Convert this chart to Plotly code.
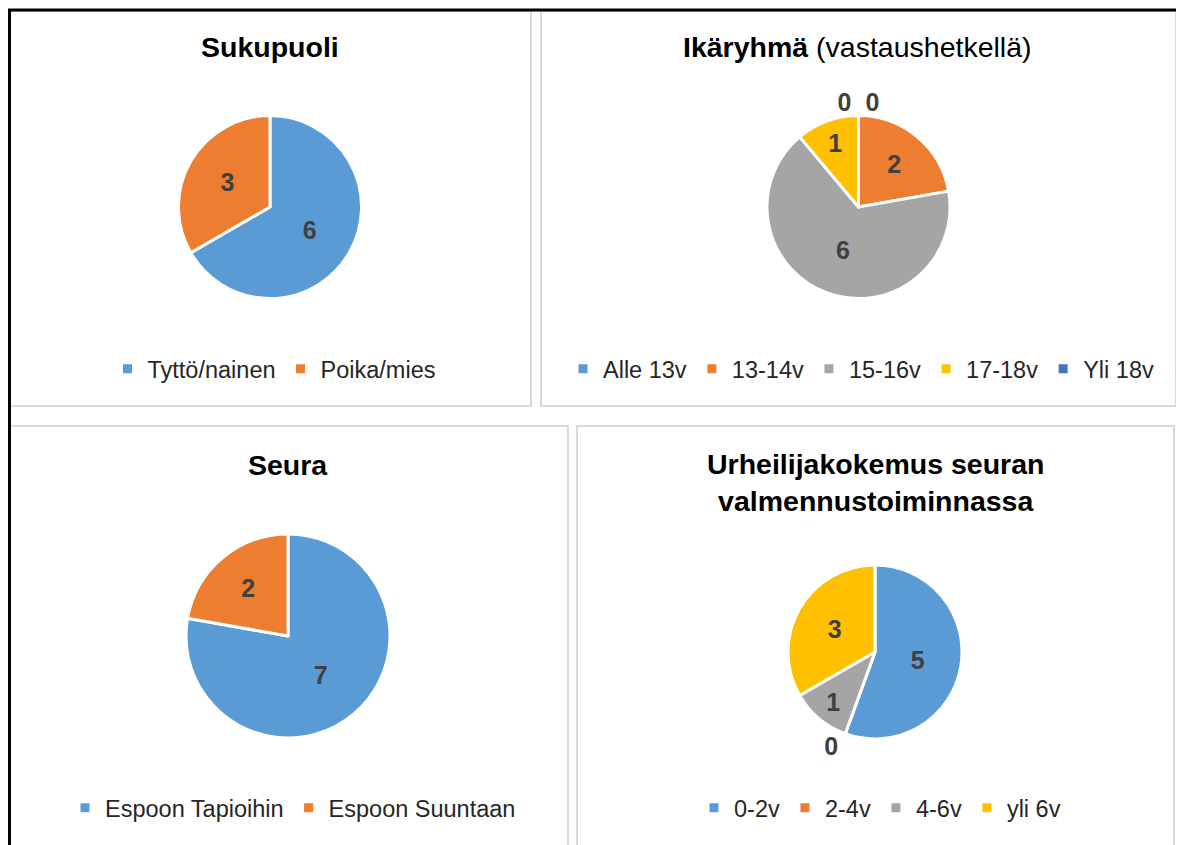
import plotly.graph_objs as go

# data
sukupuoli_labels = ['Tyttö/nainen', 'Poika/mies']
sukupuoli_values = [6, 3]

ika_labels = ['Alle 13v', '13-14v', '15-16v', '17-18v', 'Yli 18v']
ika_values = [0, 2, 6, 1, 0]

seura_labels = ['Espoon Tapioihin', 'Espoon Suuntaan']
seura_values = [7, 2]

kokemus_labels = ['0-2v', '2-4v', '4-6v', 'yli 6v']
kokemus_values = [5, 0, 1, 3]

# page has an 8px body margin, so the figure is placed at (8, 8) in the window
OFF = 8
W, H = 1184 - OFF, 845 - OFF
FONT = "Liberation Sans, Arial, sans-serif"
BLUE, ORANGE, GRAY, YELLOW, DARKBLUE = '#5B9BD5', '#ED7D31', '#A5A5A5', '#FFC000', '#4472C4'


def px(x):
    return (x - OFF) / W


def py(y):
    return 1 - (y - OFF) / H


def pie_domain(cx, cy, r):
    return dict(x=[px(cx - r), px(cx + r)], y=[py(cy + r), py(cy - r)])


def make_pie(labels, values, colors, domain, legend):
    return go.Pie(
        labels=labels,
        values=values,
        sort=False,
        direction='clockwise',
        rotation=0,
        domain=domain,
        legend=legend,
        marker=dict(colors=colors, line=dict(color='white', width=3)),
        texttemplate='%{value}',
        textposition=['outside' if v == 0 else 'inside' for v in values],
        insidetextorientation='horizontal',
        textfont=dict(family=FONT, size=25, color='#404040', weight='bold'),
        outsidetextfont=dict(family=FONT, size=25, color='#404040', weight='bold'),
        hoverinfo='label+value',
    )


fig = go.Figure()
fig.add_trace(make_pie(sukupuoli_labels, sukupuoli_values, [BLUE, ORANGE],
                       pie_domain(270, 207, 91.5), 'legend'))
fig.add_trace(make_pie(ika_labels, ika_values, [BLUE, ORANGE, GRAY, YELLOW, DARKBLUE],
                       pie_domain(858.5, 207, 91.5), 'legend2'))
fig.add_trace(make_pie(seura_labels, seura_values, [BLUE, ORANGE],
                       pie_domain(288, 636, 102), 'legend3'))
fig.add_trace(make_pie(kokemus_labels, kokemus_values, [BLUE, ORANGE, GRAY, YELLOW],
                       pie_domain(875, 652, 87), 'legend4'))

legend_style = dict(orientation='h', xanchor='center', yanchor='middle',
                    font=dict(family=FONT, size=23.5, color='#262626'),
                    bgcolor='rgba(0,0,0,0)', itemwidth=30, traceorder='normal')

# panel frames
shapes = []
for x0, y0, x1, y1 in [(9, 11, 531, 406), (541, 11, 1176, 406),
                       (9, 426, 568, 860), (577, 426, 1174, 860)]:
    shapes.append(dict(type='rect', xref='paper', yref='paper',
                       x0=px(x0), x1=px(x1), y0=py(y1), y1=py(y0),
                       line=dict(color='#D9D9D9', width=2), layer='below'))
shapes.append(dict(type='rect', xref='paper', yref='paper',
                   x0=px(9.5), x1=px(1180), y0=py(880), y1=py(10),
                   line=dict(color='black', width=3)))

titles = [
    (270, 47, '<b>Sukupuoli</b>'),
    (857, 47, '<b>Ikäryhmä</b> (vastaushetkellä)'),
    (288, 465, '<b>Seura</b>'),
    (875, 482, '<b>Urheilijakokemus seuran</b><br><b>valmennustoiminnassa</b>'),
]
annotations = [dict(x=px(x), y=py(y), xref='paper', yref='paper', text=t,
                    showarrow=False, xanchor='center', yanchor='middle',
                    font=dict(family=FONT, size=28.5, color='black'))
               for x, y, t in titles]

fig.update_layout(
    width=W, height=H,
    margin=dict(l=0, r=0, t=0, b=0),
    paper_bgcolor='white',
    plot_bgcolor='white',
    showlegend=True,
    legend=dict(legend_style, x=px(274), y=py(369)),
    legend2=dict(legend_style, x=px(861), y=py(369)),
    legend3=dict(legend_style, x=px(293), y=py(808)),
    legend4=dict(legend_style, x=px(880), y=py(808)),
    shapes=shapes,
    annotations=annotations,
)

fig.write_html("out.html")
